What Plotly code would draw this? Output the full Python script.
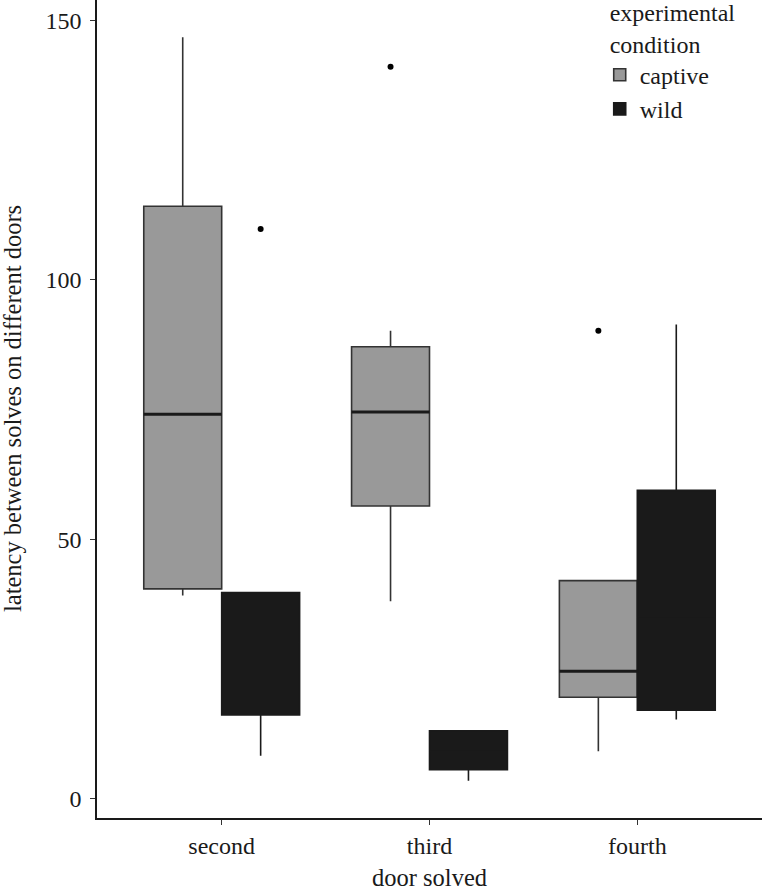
import plotly.graph_objects as go

categories = ["second", "third", "fourth"]

captive_lower = [39.1, 38.0, 9.1]
captive_q1 = [40.4, 56.4, 19.5]
captive_median = [74.1, 74.5, 24.5]
captive_q3 = [114.2, 87.1, 42.0]
captive_upper = [146.8, 90.2, 42.0]
captive_outliers_cat = ["third", "fourth"]
captive_outliers = [141.1, 90.2]

wild_lower = [8.2, 3.4, 15.2]
wild_q1 = [16.1, 5.5, 17.0]
wild_median = [30.0, 9.0, 35.0]
wild_q3 = [39.7, 13.0, 59.4]
wild_upper = [39.7, 13.0, 91.4]
wild_outliers_cat = ["second"]
wild_outliers = [109.8]

FONT = "Liberation Serif, Times New Roman, serif"
dodge = 0.1875
bw = 0.375
pos = {c: i + 1 for i, c in enumerate(categories)}

fig = go.Figure()
fig.add_trace(go.Box(
    name="captive", x=[pos[c] - dodge for c in categories],
    q1=captive_q1, median=captive_median, q3=captive_q3,
    lowerfence=captive_lower, upperfence=captive_upper,
    width=bw, whiskerwidth=0, fillcolor="#999999",
    line=dict(color="#333333", width=1.6), boxpoints=False,
))
fig.add_trace(go.Box(
    name="wild", x=[pos[c] + dodge for c in categories],
    q1=wild_q1, median=wild_median, q3=wild_q3,
    lowerfence=wild_lower, upperfence=wild_upper,
    width=bw, whiskerwidth=0, fillcolor="#1a1a1a",
    line=dict(color="#1a1a1a", width=1.6), boxpoints=False,
))
# thicker median lines for captive boxes (ggplot style)
mx, my = [], []
for c, m in zip(categories, captive_median):
    mx += [pos[c] - dodge - bw / 2, pos[c] - dodge + bw / 2, None]
    my += [m, m, None]
fig.add_trace(go.Scatter(x=mx, y=my, mode="lines", line=dict(color="#1a1a1a", width=3),
                         showlegend=False, hoverinfo="skip"))
fig.add_trace(go.Scatter(
    x=[pos[c] - dodge for c in captive_outliers_cat], y=captive_outliers,
    mode="markers", marker=dict(color="black", size=6), showlegend=False,
))
fig.add_trace(go.Scatter(
    x=[pos[c] + dodge for c in wild_outliers_cat], y=wild_outliers,
    mode="markers", marker=dict(color="black", size=6), showlegend=False,
))

fig.update_layout(
    width=762, height=892,
    margin=dict(l=97, r=0, t=0, b=74, autoexpand=False),
    paper_bgcolor="white", plot_bgcolor="white",
    font=dict(family=FONT, size=24, color="#1a1a1a"),
    boxmode="overlay",
    legend=dict(
        title=dict(text="experimental<br>condition", font=dict(size=24)),
        x=0.768, y=1.012, xanchor="left", yanchor="top", indentation=-8,
        bgcolor="rgba(0,0,0,0)", font=dict(size=24), tracegroupgap=0,
    ),
    xaxis=dict(
        range=[0.4, 3.6], tickvals=[pos[c] for c in categories], ticktext=categories,
        showgrid=False, zeroline=False, showline=True, linecolor="#1a1a1a", linewidth=1.5,
        ticks="outside", ticklen=5, tickcolor="#333333", automargin=False,
        title=dict(text="door solved", standoff=11, font=dict(size=24.5)),
    ),
    yaxis=dict(
        range=[-3.8, 154.0], tickvals=[0, 50, 100, 150],
        showgrid=False, zeroline=False, showline=True, linecolor="#1a1a1a", linewidth=1.5,
        ticks="outside", ticklen=5, tickcolor="#333333", automargin=False,
        ticklabelstandoff=4,
    ),
    annotations=[dict(
        text="latency between solves on different doors", textangle=-90,
        xref="paper", yref="paper", x=0, y=0.5, xanchor="center", yanchor="middle",
        xshift=-85, showarrow=False, font=dict(size=24.5),
    )],
)

fig.write_html(
    "out.html",
    config={"displayModeBar": False},
    post_script="document.body.style.margin='0';document.body.style.overflow='hidden';",
)
